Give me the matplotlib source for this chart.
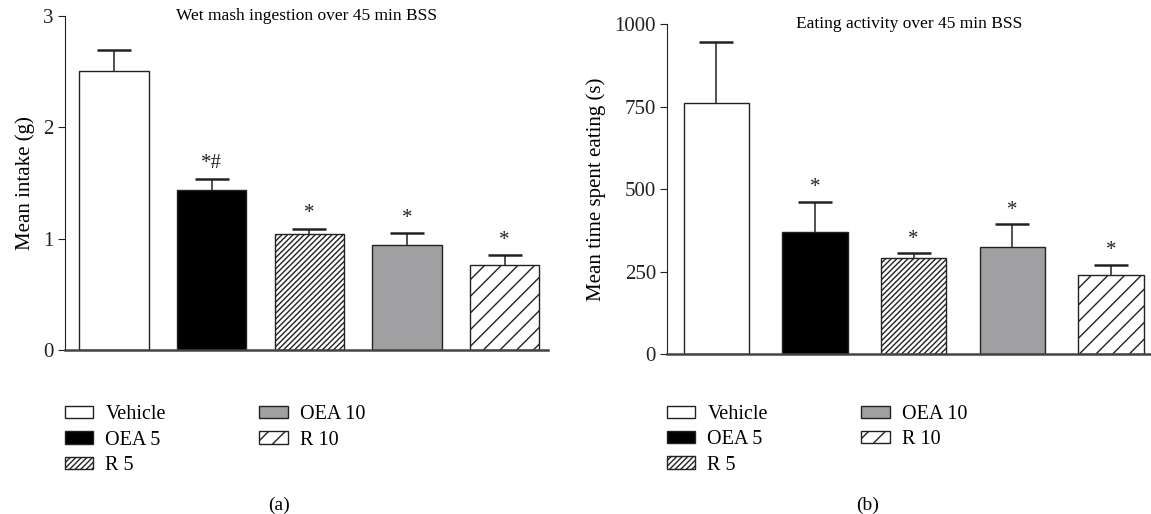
import matplotlib.pyplot as plt

plt.rcParams["font.family"] = ["Liberation Serif", "DejaVu Serif"]
plt.rcParams["hatch.linewidth"] = 1.0

groups = ["Vehicle", "OEA 5", "R 5", "OEA 10", "R 10"]
colors = ["white", "black", "white", "#a0a0a2", "white"]
hatches = [None, None, "//////", None, "//"]

# panel (a): wet mash intake (g)
intake_mean = [2.51, 1.44, 1.04, 0.94, 0.76]
intake_sem = [0.18, 0.10, 0.05, 0.11, 0.09]
intake_marks = ["", "*#", "*", "*", "*"]

# panel (b): time spent eating (s)
eating_mean = [760, 370, 291, 325, 240]
eating_sem = [185, 92, 14, 68, 30]
eating_marks = ["", "*", "*", "*", "*"]

fig = plt.figure(figsize=(11.51, 5.14), dpi=100)
ax1 = fig.add_axes([0.0565, 0.319, 0.42, 0.650])
ax2 = fig.add_axes([0.5795, 0.311, 0.42, 0.642])

dark = "#222222"


def draw_panel(ax, means, sems, marks, width, ymax, yticks, ylabel, title, xmax, star_off):
    x = range(len(groups))
    # error bars sit behind the bars so only the upper half shows
    ax.errorbar(x, means, yerr=sems, fmt="none", ecolor=dark,
                elinewidth=1.1, capsize=12, capthick=1.8, zorder=1)
    bars = ax.bar(x, means, width=width, color=colors, edgecolor=dark,
                  linewidth=1.0, label=groups, zorder=2)
    for b, h in zip(bars, hatches):
        if h:
            b.set_hatch(h)
    for xi, m, s, t in zip(x, means, sems, marks):
        if t:
            ax.text(xi, m + s + star_off, t, ha="center", va="bottom",
                    fontsize=15, color=dark)
    ax.set_xlim(-0.5, xmax)
    ax.set_ylim(0, ymax)
    ax.set_yticks(yticks)
    ax.set_xticks([])
    ax.spines["top"].set_visible(False)
    ax.spines["right"].set_visible(False)
    ax.spines["left"].set_color(dark)
    ax.spines["bottom"].set_color("#444444")
    ax.spines["bottom"].set_linewidth(1.8)
    ax.tick_params(axis="y", direction="out", length=5, labelsize=15,
                   colors=dark, pad=3)
    ax.set_ylabel(ylabel, fontsize=15, labelpad=6)
    ax.text(0.5, 1.0, title, transform=ax.transAxes, ha="center",
            va="center", fontsize=12.5)
    return bars


b1 = draw_panel(ax1, intake_mean, intake_sem, intake_marks, 0.71, 3,
                [0, 1, 2, 3], "Mean intake (g)",
                "Wet mash ingestion over 45 min BSS", 4.45, 0.05)
b2 = draw_panel(ax2, eating_mean, eating_sem, eating_marks, 0.66, 1000,
                [0, 250, 500, 750, 1000], "Mean time spent eating (s)",
                "Eating activity over 45 min BSS", 4.4, 15)

for ax, bars, y0 in [(ax1, b1, -0.141), (ax2, b2, -0.129)]:
    ax.legend(bars, groups, ncol=2, frameon=False, loc="upper left",
              bbox_to_anchor=(-0.0166, y0), fontsize=14.5,
              handlelength=1.4, handleheight=0.55, labelspacing=0.32,
              columnspacing=4.65, handletextpad=0.6, borderaxespad=0)

fig.text(279 / 1151, 1 - 505 / 514, "(a)", ha="center", va="center", fontsize=14)
fig.text(868 / 1151, 1 - 505 / 514, "(b)", ha="center", va="center", fontsize=14)

fig.savefig("out.png", dpi=100)
